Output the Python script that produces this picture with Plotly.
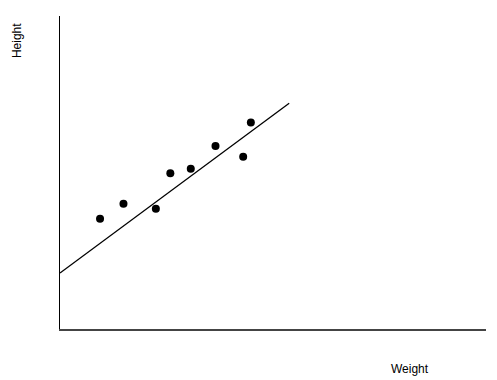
import plotly.graph_objects as go

# Data
weight = [9.4, 14.9, 22.5, 25.9, 30.7, 36.5, 43.0, 44.8]
height = [35.2, 40.0, 38.4, 49.8, 51.2, 58.5, 55.0, 66.0]
fit_x = [0.0, 53.8]
fit_y = [17.9, 72.1]

fig = go.Figure()
fig.add_trace(go.Scatter(x=fit_x, y=fit_y, mode="lines",
                         line=dict(color="black", width=1.3), hoverinfo="skip"))
fig.add_trace(go.Scatter(x=weight, y=height, mode="markers",
                         marker=dict(color="black", size=8, symbol="circle",
                                     line=dict(width=0))))

# page has an 8px body margin, so the figure is sized/placed to compensate
fig.update_layout(
    width=489, height=372,
    margin=dict(l=52, r=11, t=8, b=51),
    paper_bgcolor="white", plot_bgcolor="white",
    showlegend=False,
    font=dict(family="Liberation Sans, Arial, sans-serif", size=12, color="black"),
    xaxis=dict(range=[0, 100], showgrid=False, zeroline=False, showticklabels=False,
               ticks="", showline=True, linecolor="#444", linewidth=2),
    yaxis=dict(range=[0, 100], showgrid=False, zeroline=False, showticklabels=False,
               ticks="", showline=True, linecolor="black", linewidth=1.2),
    annotations=[
        dict(text="Height", xref="paper", yref="paper", x=-0.101, y=0.923,
             showarrow=False, textangle=-90, xanchor="center", yanchor="middle",
             font=dict(size=12)),
        dict(text="Weight", xref="paper", yref="paper", x=0.822, y=-0.128,
             showarrow=False, xanchor="center", yanchor="middle",
             font=dict(size=12)),
    ],
)

fig.write_html("out.html")
